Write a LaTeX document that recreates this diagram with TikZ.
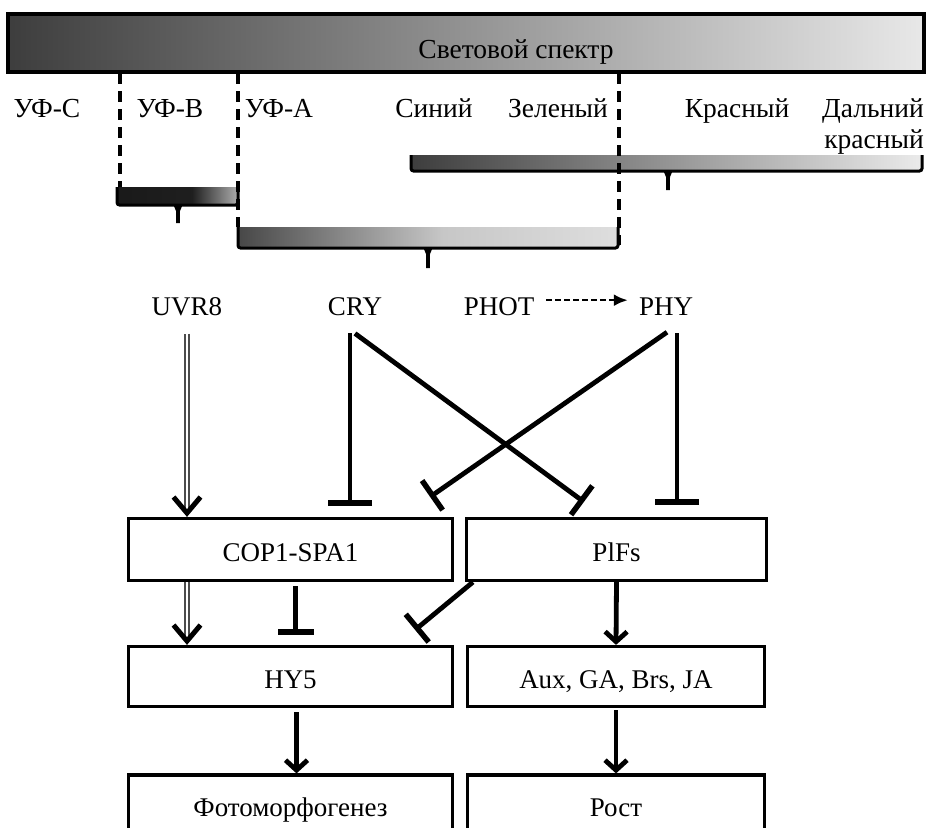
\documentclass[tikz,border=0pt]{standalone}
\usepackage{fontspec}
\setmainfont{Liberation Serif}
\usetikzlibrary{arrows.meta,positioning}

\pgfdeclarehorizontalshading{uvbshade}{100bp}{color(0bp)=(black!90); color(25bp)=(black!90); color(56bp)=(black!88); color(75bp)=(black!32); color(100bp)=(black!32)}
\pgfdeclarehorizontalshading{uvashade}{100bp}{color(0bp)=(black!72); color(25bp)=(black!72); color(52bp)=(black!22); color(75bp)=(black!13); color(100bp)=(black!13)}

% tapered tick under a range bracket: x, bottom of bar, end
\newcommand{\rangetick}[3]{\fill (#1-4.5,#2) -- (#1+4.5,#2) -- (#1+2,#2+6) -- (#1+1.8,#3) -- (#1-1.8,#3) -- (#1-2,#2+6) -- cycle;}

\begin{document}
\begin{tikzpicture}[x=1pt, y=-1pt,
  toplbl/.style={font=\fontsize{27.5}{32}\selectfont, inner sep=2pt, anchor=base},
  lbl/.style={font=\fontsize{27}{30}\selectfont, inner sep=2pt, anchor=base},
  box/.style={draw, line width=3.2pt, font=\fontsize{27}{30}\selectfont, text height=24pt, text depth=0pt, inner sep=0pt},
  bracket/.style={line width=3pt, rounded corners=2.5pt},
  vdash/.style={line width=3.2pt, dash pattern=on 11pt off 7pt},
  arr/.style={line width=4.8pt, -{Straight Barb[length=10pt,width=22pt,line width=4.8pt]}},
  bigarr/.style={line width=4.8pt, -{Straight Barb[length=16pt,width=27pt,line width=5pt]}},
  dbl/.style={draw=black!70, line width=1.6pt, double=white, double distance=2.6pt},
  inh/.style={line width=4.8pt, -{Bar[width=36pt,line width=5.5pt]}},
  longinh/.style={line width=4.8pt, -{Bar[width=44pt,line width=5.5pt]}}]
  \useasboundingbox (0,0) rectangle (928,827);
  \clip (0,0) rectangle (928,827);

  % spectrum
  \shade[left color=black!76, middle color=black!50, right color=black!9] (8,14) rectangle (924,72);
  \draw[line width=3.5pt] (8,14) rectangle (924,72);
  \node[toplbl] (spectrum) at (516,58) {Световой спектр};

  \node[toplbl] (uvc) at (47,117) {УФ-C};
  \node[toplbl] (uvb) at (170,117) {УФ-B};
  \node[toplbl] (uva) at (279,117) {УФ-A};
  \node[toplbl] (blue) at (434,117) {Синий};
  \node[toplbl] (green) at (558,117) {Зеленый};
  \node[toplbl] (red) at (737,117) {Красный};
  \node[toplbl, anchor=base east] (farred) at (926,117) {Дальний};
  \node[toplbl, anchor=base east] (farred2) at (926,148) {красный};

  % absorption ranges
  \shade[left color=black!76, right color=black!8] (411,155) rectangle (922,171);
  \draw[bracket] (411,155) -- (411,171) -- (922,171) -- (922,155);
  \rangetick{668}{171}{190}

  \shade[shading=uvbshade] (117,187) rectangle (238,205);
  \draw[bracket] (117,187) -- (117,205) -- (238,205) -- (238,187);
  \rangetick{178}{205}{223}

  \shade[shading=uvashade] (238,227) rectangle (618,248);
  \draw[bracket] (238,227) -- (238,248) -- (618,248) -- (618,227);
  \rangetick{428}{248}{268}

  \draw[vdash] (120,73) -- (120,187);
  \draw[vdash] (238,73) -- (238,227);
  \draw[vdash] (619,73) -- (619,245);

  % photoreceptors
  \node[lbl] (uvr8) at (187,315) {UVR8};
  \node[lbl] (cry) at (355,315) {CRY};
  \node[lbl] (phot) at (499,315) {PHOT};
  \node[lbl] (phy) at (666,315) {PHY};

  \node[box, minimum width=324pt, minimum height=62pt] (cop) at (290.5,549.5) {COP1-SPA1};
  \node[box, minimum width=300pt, minimum height=62pt] (pifs) at (616.5,549.5) {PlFs};
  \node[box, minimum width=324pt, minimum height=60pt] (hy5) at (290.5,676.5) {HY5};
  \node[box, minimum width=297pt, minimum height=60pt] (aux) at (616,676.5) {Aux, GA, Brs, JA};
  \node[box, minimum width=324pt, minimum height=58pt] (photo) at (290.5,804) {Фотоморфогенез};
  \node[box, minimum width=297pt, minimum height=58pt] (growth) at (616,804) {Рост};

  \draw[line width=2.6pt, dash pattern=on 6pt off 3pt, -{Latex[length=14pt,width=12pt]}, shorten <=10pt, shorten >=9pt]
    ([yshift=6pt]phot.east) -- ([yshift=6pt]phot.east -| phy.west);

  \draw[dbl, shorten <=16pt, shorten >=4pt] (uvr8.south) -- (uvr8.south |- cop.north);
  \draw[bigarr] ([yshift=2pt]uvr8.south |- cop.north) -- (uvr8.south |- cop.north);

  \draw[longinh, shorten <=16pt, shorten >=11pt] ([xshift=-5pt]cry.south) -- ([xshift=-5pt]cry.south |- cop.north);
  \draw[inh] ([yshift=-16pt]cry.south) -- ([shift={(119,-15)}]pifs.north west);
  \draw[inh] ([shift={(1,15)}]phy.south) -- ([shift={(-24,-20)}]cop.north east);
  \draw[longinh, shorten <=16pt, shorten >=12pt] ([xshift=11pt]phy.south) -- ([xshift=11pt]phy.south |- pifs.north);

  \draw[dbl, shorten >=4pt] (cop.south -| uvr8) -- (hy5.north -| uvr8);
  \draw[bigarr] ([yshift=2pt]hy5.north -| uvr8) -- (hy5.north -| uvr8);
  \draw[inh, shorten <=4pt, shorten >=10pt] ([xshift=5pt]cop.south) -- ([xshift=5pt]hy5.north);
  \draw[inh] ([xshift=8pt]pifs.south west) -- ([shift={(-39,-15)}]hy5.north east);
  \draw[arr] (pifs.south) -- (aux.north);

  \draw[arr, shorten <=4pt] ([xshift=6pt]hy5.south) -- ([xshift=6pt]photo.north);
  \draw[arr, shorten <=2pt] (aux.south) -- (growth.north);
\end{tikzpicture}
\end{document}
